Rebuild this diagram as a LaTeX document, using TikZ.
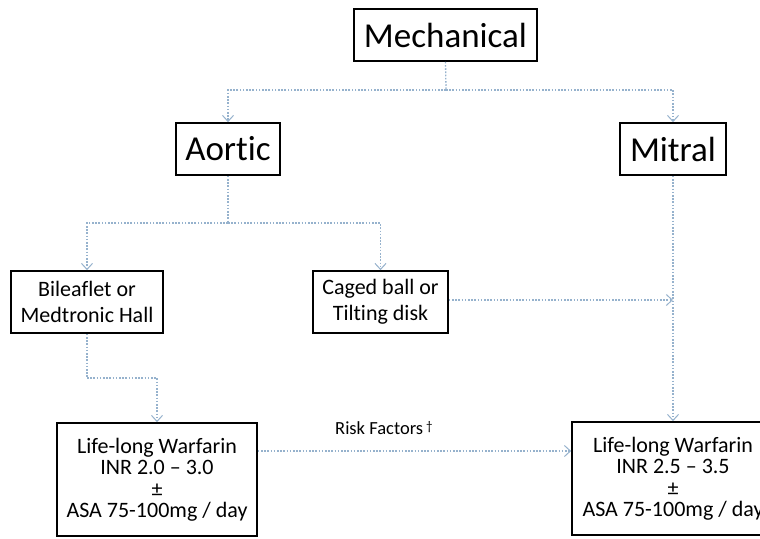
\documentclass[tikz,border=0pt]{standalone}
\usepackage{fontspec}
\setmainfont[Ligatures={NoCommon}]{Carlito}
\usetikzlibrary{arrows.meta,calc}
\definecolor{conn}{RGB}{150,178,205}
\tikzset{
  box/.style={draw=black, line width=1.7pt, fill=white, inner sep=0pt, align=center, text=black},
  bigbox/.style={box, font=\fontsize{35}{42}\selectfont},
  midbox/.style={box, font=\fontsize{22}{26}\selectfont},
  drugbox/.style={box, font=\fontsize{22}{21.5}\selectfont},
  link/.style={draw=conn, line width=1.3pt, dash pattern=on 1.6pt off 1.6pt},
  arr/.style={link, -{Straight Barb[length=6pt,width=11pt,line width=1pt]}}
}
\begin{document}
\begin{tikzpicture}[x=1pt,y=-1pt]
\useasboundingbox (0,0) rectangle (760,538);
\clip (0,0) rectangle (760,538);
\fill[white] (0,0) rectangle (760,538);

\node[bigbox, minimum width=183pt, minimum height=52pt] (mech) at (445.5,35) {Mechanical};
\node[bigbox, minimum width=104pt, minimum height=52pt] (aortic) at (228,149) {Aortic};
\node[bigbox, minimum width=106pt, minimum height=52pt] (mitral) at (673,149) {Mitral};
\node[midbox, minimum width=152pt, minimum height=62pt] (bile) at (87,302) {Bileaflet or\\Medtronic Hall};
\node[midbox, minimum width=135pt, minimum height=62pt] (caged) at (380.5,302) {Caged ball or\\Tilting disk};
\node[drugbox, minimum width=200pt, minimum height=113pt] (leftw) at (157,479.5) {Life-long Warfarin\\INR 2.0 -- 3.0\\±\\ASA 75-100mg / day};
\node[drugbox, minimum width=202pt, minimum height=113pt] (rightw) at (673,478.5) {Life-long Warfarin\\INR 2.5 -- 3.5\\±\\ASA 75-100mg / day};

\coordinate (j1) at (446,90);
\coordinate (j2) at (228,223);
\coordinate (j3) at (87,378);
\coordinate (mx) at (673,300);
\coordinate (rfy) at (0,451);

\draw[link] (mech.south) -- (j1);
\draw[arr] (j1) -| (aortic.north);
\draw[arr] (j1) -| (mitral.north);
\draw[link] (aortic.south) -- (j2);
\draw[arr] (j2) -| (bile.north);
\draw[arr] (j2) -| (caged.north);
\draw[link] (bile.south) -- (j3);
\draw[arr] (j3) -| (leftw.north);
\draw[arr] (caged.east |- mx) -- (mx);
\draw[arr] (mitral.south) -- (rightw.north);
\draw[arr] (leftw.east |- rfy) -- (rightw.west |- rfy);

\node[anchor=base west, inner sep=0pt, font=\fontsize{18.5}{22}\selectfont] (rf) at (335,434) {Risk Factors\,\raisebox{0.45ex}{\fontsize{13}{14}\selectfont †}};
\end{tikzpicture}
\end{document}
